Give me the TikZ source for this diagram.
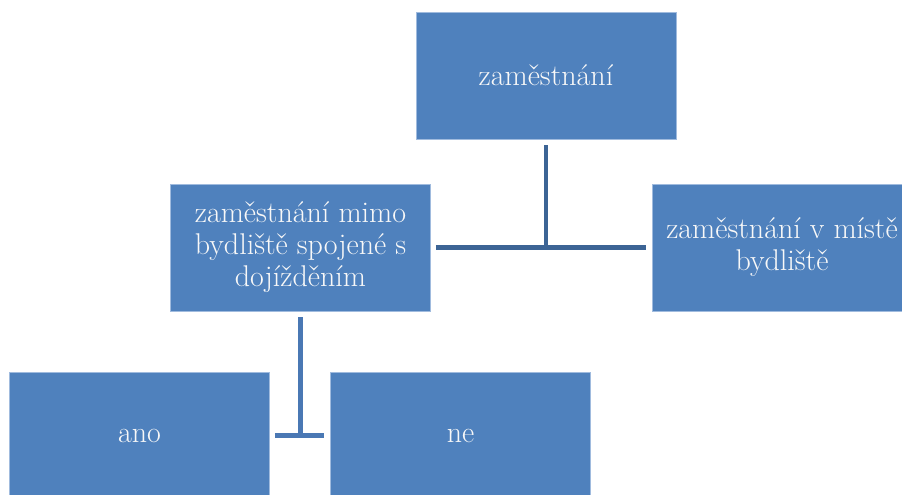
\documentclass[tikz,border=0pt]{standalone}
\usetikzlibrary{calc}
\definecolor{boxblue}{RGB}{79,129,189}
\definecolor{boxedge}{RGB}{160,187,222}
\definecolor{linkdark}{RGB}{60,100,149}
\definecolor{linklight}{RGB}{74,120,180}
\definecolor{boxtext}{RGB}{248,248,248}
\tikzset{
  orgbox/.style={draw=boxedge, line width=0.8pt, fill=boxblue, text=boxtext,
    minimum width=260pt, minimum height=127pt, inner sep=0pt,
    align=center, font=\fontsize{30}{32}\selectfont},
  linkupper/.style={draw=linkdark, line width=4.8pt},
  linklower/.style={draw=linklight, line width=5.2pt}
}
\begin{document}
\begin{tikzpicture}[x=1pt, y=-1pt]
  \useasboundingbox (0,0) rectangle (902,495);
  \clip (0,0) rectangle (902,495);

  % level one
  \node[orgbox] (top) at (546,75.5) {zaměstnání};

  % level two
  \node[orgbox] (mid) at (300.5,247.5) {zaměstnání mimo\\bydliště spojené s\\dojížděním};
  \node[orgbox] (right) at (782,247.5) {zaměstnání v místě\\bydliště};

  % level three
  \node[orgbox] (ano) at (139.5,435.5) {ano};
  \node[orgbox] (ne) at (460.5,435.5) {ne};

  % upper connector
  \coordinate (j1) at (546,247.5);
  \draw[linkupper] ($(top.south)+(0,6)$) -- (j1);
  \draw[linkupper] ($(mid.east)+(5,0)$) -- ($(right.west)+(-6,0)$);

  % lower connector
  \coordinate (j2) at (300.5,435.5);
  \draw[linklower] ($(mid.south)+(0,6)$) -- (j2);
  \draw[linklower] ($(ano.east)+(5,0)$) -- ($(ne.west)+(-6,0)$);
\end{tikzpicture}
\end{document}
